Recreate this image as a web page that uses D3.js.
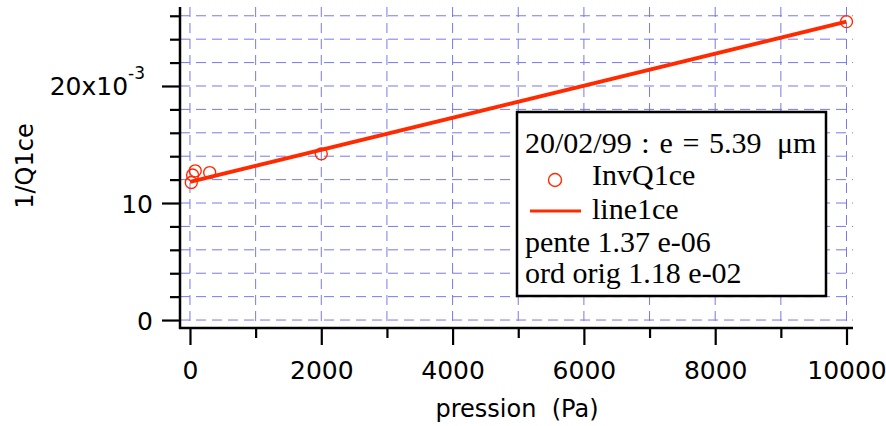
<!DOCTYPE html>
<html><head><meta charset="utf-8">
<script src="https://cdn.jsdelivr.net/npm/d3@7"></script>
<style>
html,body{margin:0;padding:0;background:#fff;}
svg{display:block;}
</style></head>
<body>
<script>
// ---- data ----
const pointX = [20, 40, 80, 300, 2000, 10000];            // pression (Pa)
const pointY = [0.01175, 0.0124, 0.01275, 0.0126, 0.0142, 0.0255]; // InvQ1ce
const lineX = [0, 10000];                                   // line1ce
const lineY = [0.0118, 0.0255];
const xMajorTicks = [0, 2000, 4000, 6000, 8000, 10000];
const xMinorTicks = [1000, 3000, 5000, 7000, 9000];
const yMajorTicks = [0, 0.010, 0.020];
const yMinorTicks = [0.002,0.004,0.006,0.008,0.012,0.014,0.016,0.018,0.022,0.024,0.026];
const yTickLabels = ["0", "10", "20x10"];
const legendLines = ["20/02/99 : e = 5.39", "InvQ1ce", "line1ce", "pente 1.37 e-06", "ord orig 1.18 e-02"];

const W = 886, H = 426;
const svg = d3.select("body").append("svg").attr("width", W).attr("height", H);

const x = d3.scaleLinear().domain([-152, 10099]).range([180, 853]);
const y = d3.scaleLinear().domain([-0.00068, 0.02675]).range([328, 7]);

const red = "#ff2a00";
const gridCol = "#7878ee";

// grid
const g = svg.append("g");
const allX = xMajorTicks.concat(xMinorTicks);
const allY = yMajorTicks.concat(yMinorTicks);
g.selectAll(".vg").data(allX).join("line")
  .attr("x1", d => x(d)).attr("x2", d => x(d))
  .attr("y1", y(0.02675)).attr("y2", 328)
  .attr("stroke", gridCol).attr("stroke-width", 1).attr("stroke-dasharray", "10,6");
g.selectAll(".hg").data(allY).join("line")
  .attr("x1", 180).attr("x2", 853)
  .attr("y1", d => y(d)).attr("y2", d => y(d))
  .attr("stroke", gridCol).attr("stroke-width", 1).attr("stroke-dasharray", "10,6");

// axes
const font = "'DejaVu Sans', sans-serif";
const yAxis = d3.axisLeft(y).tickValues(yMajorTicks).tickSize(18)
  .tickFormat((d, i) => yTickLabels[i]);
const yAx = svg.append("g").attr("transform", "translate(180,0)").call(yAxis);
const yAxMinor = svg.append("g").attr("transform", "translate(180,0)")
  .call(d3.axisLeft(y).tickValues(yMinorTicks).tickSize(10).tickFormat(""));
const xAxis = d3.axisBottom(x).tickValues(xMajorTicks).tickSize(17).tickFormat(d3.format("d"));
const xAx = svg.append("g").attr("transform", "translate(0,328)").call(xAxis);
const xAxMinor = svg.append("g").attr("transform", "translate(0,328)")
  .call(d3.axisBottom(x).tickValues(xMinorTicks).tickSize(10).tickFormat(""));

[yAx, yAxMinor, xAx, xAxMinor].forEach(a => {
  a.select(".domain").remove();
  a.selectAll(".tick line").attr("stroke", "#000").attr("stroke-width", 2.2);
  a.selectAll("text").attr("font-family", font).attr("font-size", 25).attr("fill", "#000");
});
yAx.selectAll(".tick text").attr("x", -27).attr("dy", "0.36em");
// superscript on the top y label
yAx.selectAll(".tick text").filter((d, i) => i === 2)
  .attr("x", -35)
  .append("tspan").attr("dy", -16).attr("font-size", 17).text("-3");
xAx.selectAll(".tick text").attr("dy", null)
  .attr("dominant-baseline", "auto").attr("y", 51);

// axis lines
svg.append("line").attr("x1", 180).attr("x2", 180).attr("y1", 7).attr("y2", 329)
  .attr("stroke", "#000").attr("stroke-width", 2.5);
svg.append("line").attr("x1", 179).attr("x2", 853).attr("y1", 328).attr("y2", 328)
  .attr("stroke", "#000").attr("stroke-width", 2.5);

// axis titles
svg.append("text").attr("x", 517).attr("y", 417).attr("text-anchor", "middle")
  .attr("font-family", font).attr("font-size", 24).attr("xml:space", "preserve")
  .text("pression  (Pa)");
svg.append("text").attr("transform", "translate(33,166) rotate(-90)").attr("text-anchor", "middle")
  .attr("font-family", font).attr("font-size", 24).text("1/Q1ce");

// fit line
svg.append("path")
  .datum(lineX.map((d, i) => [d, lineY[i]]))
  .attr("d", d3.line().x(d => x(d[0])).y(d => y(d[1])))
  .attr("fill", "none").attr("stroke", red).attr("stroke-width", 3.8);

// points
svg.selectAll(".pt").data(pointX.map((d, i) => [d, pointY[i]])).join("circle")
  .attr("cx", d => x(d[0])).attr("cy", d => y(d[1])).attr("r", 6)
  .attr("fill", "none").attr("stroke", red).attr("stroke-width", 1.4);

// legend
const lg = svg.append("g");
lg.append("rect").attr("x", 517).attr("y", 112).attr("width", 309).attr("height", 184)
  .attr("fill", "#fff").attr("stroke", "#000").attr("stroke-width", 2.5);
const serif = "'Liberation Serif', 'Times New Roman', serif";
const lt = (txt, xx, yy) => lg.append("text").attr("x", xx).attr("y", yy)
  .attr("font-family", serif).attr("font-size", 30).attr("fill", "#000").text(txt);
const t0 = lt(legendLines[0], 525, 153).attr("word-spacing", 2.2);
t0.append("tspan").attr("x", 777).text("\u03bcm");
lt(legendLines[1], 592, 185);
lt(legendLines[2], 592, 219);
lt(legendLines[3], 525, 252);
lt(legendLines[4], 525, 283);
lg.append("circle").attr("cx", 555).attr("cy", 180).attr("r", 6.5)
  .attr("fill", "none").attr("stroke", red).attr("stroke-width", 1.4);
lg.append("line").attr("x1", 530).attr("x2", 581).attr("y1", 211).attr("y2", 211)
  .attr("stroke", red).attr("stroke-width", 3);
</script>
</body></html>
